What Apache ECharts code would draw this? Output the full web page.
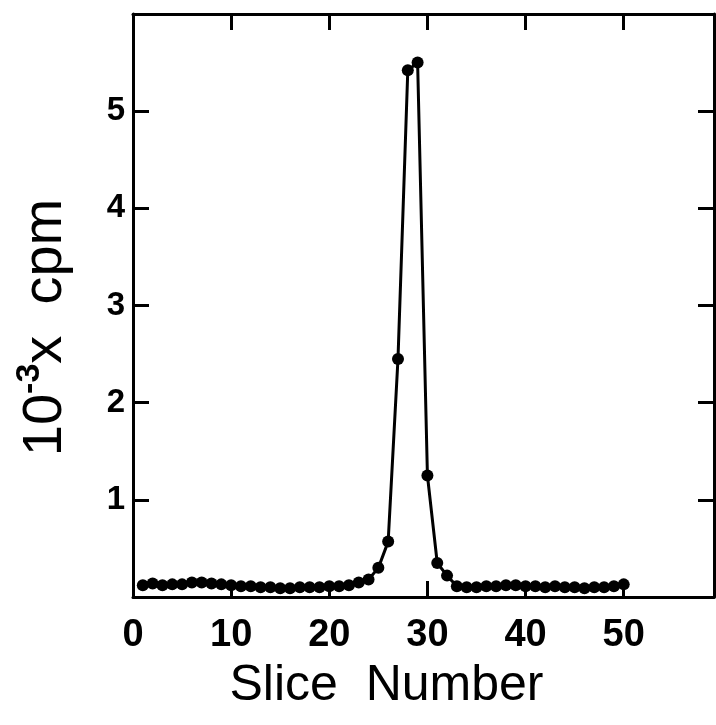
<!DOCTYPE html>
<html>
<head>
<meta charset="utf-8">
<script src="https://cdn.jsdelivr.net/npm/echarts@6/dist/echarts.min.js"></script>
<style>
  html, body { margin: 0; padding: 0; background: #fff; }
  #chart { width: 716px; height: 725px; }
</style>
</head>
<body>
<div id="chart"></div>
<script>
// slice number (x) and counts in 10^3 cpm (y)
const slices = [1, 2, 3, 4, 5, 6, 7, 8, 9, 10,
  11, 12, 13, 14, 15, 16, 17, 18, 19, 20,
  21, 22, 23, 24, 25, 26, 27, 28, 29, 30,
  31, 32, 33, 34, 35, 36, 37, 38, 39, 40,
  41, 42, 43, 44, 45, 46, 47, 48, 49, 50];
const cpm = [0.12, 0.14, 0.12, 0.13, 0.13, 0.15, 0.15, 0.14, 0.13, 0.12,
  0.11, 0.11, 0.10, 0.10, 0.09, 0.09, 0.10, 0.10, 0.10, 0.11,
  0.11, 0.12, 0.15, 0.18, 0.30, 0.57, 2.45, 5.42, 5.50, 1.25,
  0.35, 0.22, 0.11, 0.10, 0.10, 0.11, 0.11, 0.12, 0.12, 0.11,
  0.11, 0.10, 0.11, 0.10, 0.10, 0.09, 0.10, 0.10, 0.11, 0.13];
const xTicks = [0, 10, 20, 30, 40, 50];
const yTicks = [1, 2, 3, 4, 5];

const chart = echarts.init(document.querySelector('#chart'));

// box frame: every axis line stays on its own side
const line = { show: true, onZero: false, lineStyle: { color: '#000', width: 3 } };
const tick = { show: true, inside: true, length: 16, lineStyle: { color: '#000', width: 3 } };

const xBase = {
  type: 'value', min: 0, max: 59.2, interval: 10,
  axisLine: line, axisTick: tick, splitLine: { show: false }
};
const yBase = {
  type: 'value', min: 0, max: 6, interval: 1,
  axisLine: line, axisTick: tick, splitLine: { show: false }
};

const options = {
  backgroundColor: '#fff',
  animation: false,
  grid: { left: 133, right: 2, top: 14, bottom: 128, outerBoundsMode: 'none', containLabel: false },
  xAxis: [
    Object.assign({}, xBase, {
      position: 'bottom',
      name: 'Slice  Number',
      nameLocation: 'middle',
      nameGap: 64,
      nameTextStyle: {
        fontFamily: 'Liberation Sans', fontSize: 50, color: '#000',
        padding: [0, 74, 0, 0]
      },
      axisLabel: {
        color: '#000', fontFamily: 'Liberation Sans', fontWeight: 'bold', fontSize: 38, margin: 20,
        formatter: (v) => xTicks.includes(v) ? String(v) : ''
      }
    }),
    Object.assign({}, xBase, { position: 'top', axisLabel: { show: false } })
  ],
  yAxis: [
    Object.assign({}, yBase, {
      position: 'left',
      name: '{a|10}{s|-3}{a|x  cpm}',
      nameLocation: 'middle',
      nameGap: 54,
      nameTextStyle: {
        color: '#000',
        padding: [0, 44, 0, 0],
        rich: {
          a: { fontFamily: 'Liberation Sans', fontSize: 56, color: '#000' },
          s: { fontFamily: 'Liberation Sans', fontWeight: 'bold', fontSize: 34, color: '#000', padding: [0, 0, 32, 0] }
        }
      },
      axisLabel: {
        color: '#000', fontFamily: 'Liberation Sans', fontWeight: 'bold', fontSize: 33, margin: 8,
        formatter: (v) => yTicks.includes(v) ? String(v) : ''
      }
    }),
    Object.assign({}, yBase, { position: 'right', axisLabel: { show: false } })
  ],
  series: [{
    type: 'line',
    xAxisIndex: 0,
    yAxisIndex: 0,
    data: slices.map((s, i) => [s, cpm[i]]),
    symbol: 'circle',
    symbolSize: 12,
    lineStyle: { color: '#000', width: 3 },
    itemStyle: { color: '#000' }
  }]
};

chart.setOption(options);
</script>
</body>
</html>
